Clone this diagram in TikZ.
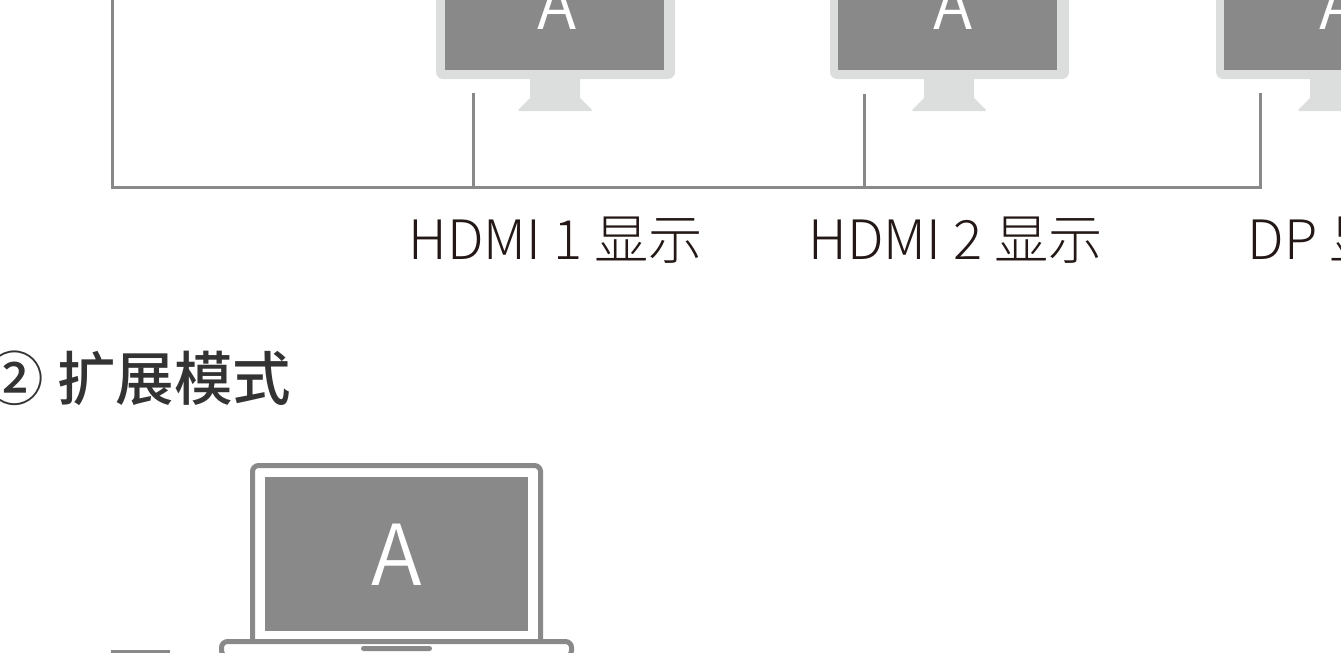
\documentclass[tikz,border=0pt]{standalone}
\usepackage{fontspec}
\setmainfont{Noto Sans CJK SC}[UprightFont=* Light,BoldFont=* Medium]
\newfontfamily\afont{Noto Sans CJK SC DemiLight}
\definecolor{linegray}{HTML}{898989}
\definecolor{screengray}{HTML}{898989}
\definecolor{bezel}{HTML}{DCDDDD}
\definecolor{inkdark}{HTML}{231815}
\definecolor{headink}{HTML}{333333}
\tikzset{
  wirestroke/.style={draw=linegray,line width=3pt},
  bezelshape/.style={fill=bezel,draw=none},
  screen/.style={fill=screengray,draw=none},
  lapline/.style={draw=linegray,line width=5pt},
  label/.style={anchor=base west,inner sep=0pt,outer sep=0pt,text=inkdark,font=\fontsize{54.3}{54.3}\selectfont},
  heading/.style={anchor=base west,inner sep=0pt,outer sep=0pt,text=headink,font=\fontsize{58.5}{58.5}\selectfont\bfseries},
  letterA/.style={anchor=base,inner sep=0pt,outer sep=0pt,text=white},
}
\newcommand{\monitor}[3]{% left, inner left, neck left
  \fill[bezelshape,rounded corners=7pt] (#1,-30) rectangle (#1+239,79);
  \fill[bezelshape] (#3,78) -- (#3+50,78) -- (#3+50,98) -- (#3+62,110) -- (#3+61,111) -- (#3-11,111) -- (#3-12,110) -- (#3,98) -- cycle;
  \fill[screen] (#2,-30) rectangle (#2+219,69.5);
}
\begin{document}
\begin{tikzpicture}[x=1pt,y=-1pt]
\useasboundingbox (0,0) rectangle (1341,653);
\clip (0,0) rectangle (1341,653);
\monitor{436}{445}{530}
\monitor{830}{838}{924}
\monitor{1216}{1224}{1310}
\node[letterA,font=\fontsize{65}{65}\selectfont\afont] (a1) at (557,29) {A};
\node[letterA,font=\fontsize{65}{65}\selectfont\afont] (a2) at (953,29) {A};
\node[letterA,font=\fontsize{65}{65}\selectfont\afont] (a3) at (1339,29) {A};
% connectors
\coordinate (top) at (112,-10);
\coordinate (cornerL) at (112,187);
\coordinate (cornerR) at (1260,187);
\coordinate (endR) at (1260,93);
\coordinate (j1) at (473,187);
\coordinate (e1) at (473,93);
\coordinate (j2) at (864,187);
\coordinate (e2) at (864,94);
\draw[wirestroke,line join=miter] (top) -- (cornerL) -- (cornerR) -- (endR);
\draw[wirestroke] (e1) -- (j1);
\draw[wirestroke] (e2) -- (j2);
% labels
\node[label] (l1) at (408.5,259.5) {HDMI 1 显示};
\node[label] (l2) at (808.5,259.5) {HDMI 2 显示};
\node[label] (l3) at (1247.5,259.5) {DP 显示};
\node[heading] (h) at (-14.5,400) {② 扩展模式};
% laptop
\draw[lapline,rounded corners=6pt] (252.5,642) -- (252.5,465.5) -- (540.5,465.5) -- (540.5,642);
\fill[screen] (265,477) rectangle (528,631);
\node[letterA,font=\fontsize{84}{84}\selectfont\afont] (a4) at (397,585) {A};
\draw[lapline,rounded corners=6pt] (221.5,641.5) rectangle (571.5,656.5);
\fill[linegray,rounded corners=2.5pt] (361,646) rectangle (432,651);
\fill[linegray] (111,649.5) rectangle (170,653);
\end{tikzpicture}
\end{document}
